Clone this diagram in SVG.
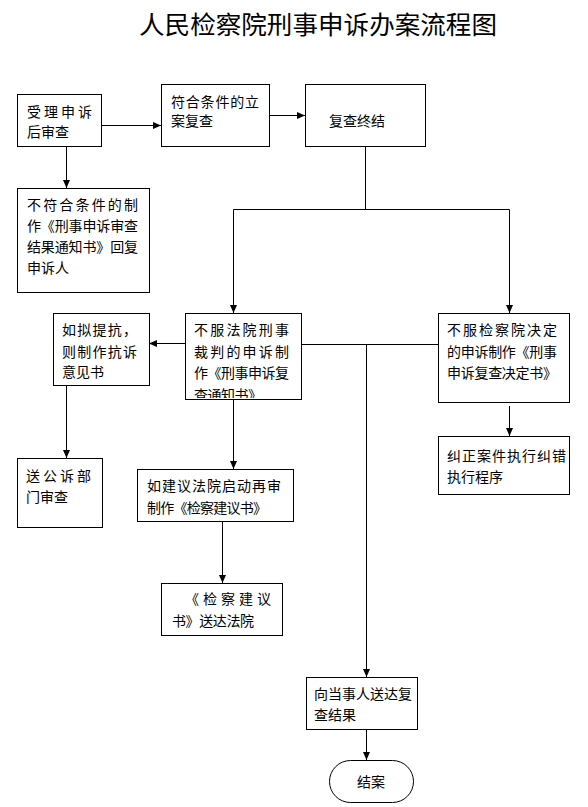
<svg xmlns="http://www.w3.org/2000/svg" width="588" height="807" viewBox="0 0 588 807">
<style>
.box{fill:#fff;stroke:#000;stroke-width:1}
.t{font-family:"Noto Sans CJK SC","Noto Sans",sans-serif;font-size:14px;fill:#000}
.title{font-family:"Noto Sans CJK SC","Noto Sans",sans-serif;font-size:25px;fill:#000}
.c{fill:none;stroke:#000;stroke-width:1}
</style>
<defs>
<marker id="ah" markerUnits="userSpaceOnUse" markerWidth="8" markerHeight="8" refX="8" refY="4" orient="auto">
<path d="M0,0.5 L8,4 L0,7.5 z" fill="#000"/>
</marker>
<clipPath id="clipB6"><rect x="186" y="314" width="114" height="84"/></clipPath>
</defs>
<rect width="588" height="807" fill="#fff"/>
<text class="title" x="139" y="34" textLength="358" lengthAdjust="spacingAndGlyphs">人民检察院刑事申诉办案流程图</text>

<g id="connectors">
<path class="c" d="M101.5,125.5 H161" marker-end="url(#ah)"/>
<path class="c" d="M269.5,115.5 H305" marker-end="url(#ah)"/>
<path class="c" d="M66.5,146 V188" marker-end="url(#ah)"/>
<path class="c" d="M365.5,146 V209.5 M233.5,209.5 H509.5"/>
<path class="c" d="M233.5,209.5 V313" marker-end="url(#ah)"/>
<path class="c" d="M509.5,209.5 V313" marker-end="url(#ah)"/>
<path class="c" d="M185,343.5 H149" marker-end="url(#ah)"/>
<path class="c" d="M301,344.5 H438"/>
<path class="c" d="M366.5,344.5 V677" marker-end="url(#ah)"/>
<path class="c" d="M66.5,385 V458" marker-end="url(#ah)"/>
<path class="c" d="M233.5,399 V469" marker-end="url(#ah)"/>
<path class="c" d="M222.5,521 V583" marker-end="url(#ah)"/>
<path class="c" d="M509.5,406 V436" marker-end="url(#ah)"/>
<path class="c" d="M366.5,729 V760" marker-end="url(#ah)"/>
</g>

<g id="n1">
<rect class="box" x="17.5" y="94.5" width="84" height="52"/>
<text class="t" x="27" y="117" textLength="65" lengthAdjust="spacing">受理申诉</text>
<text class="t" x="27" y="137">后审查</text>
</g>
<g id="n2">
<rect class="box" x="161.5" y="84.5" width="108" height="62"/>
<text class="t" x="171" y="107" textLength="88" lengthAdjust="spacing">符合条件的立</text>
<text class="t" x="171" y="126">案复查</text>
</g>
<g id="n3">
<rect class="box" x="305.5" y="84.5" width="120" height="62"/>
<text class="t" x="329" y="126">复查终结</text>
</g>
<g id="n4">
<rect class="box" x="17.5" y="188.5" width="132" height="104"/>
<text class="t" x="27" y="210" textLength="111" lengthAdjust="spacing">不符合条件的制</text>
<text class="t" x="27" y="231" textLength="111" lengthAdjust="spacing">作《刑事申诉审查</text>
<text class="t" x="27" y="252" textLength="111" lengthAdjust="spacing">结果通知书》回复</text>
<text class="t" x="27" y="273">申诉人</text>
</g>
<g id="n5">
<rect class="box" x="53.5" y="313.5" width="96" height="72"/>
<text class="t" x="62" y="335" textLength="75" lengthAdjust="spacing">如拟提抗，</text>
<text class="t" x="62" y="357" textLength="75" lengthAdjust="spacing">则制作抗诉</text>
<text class="t" x="62" y="377">意见书</text>
</g>
<g id="n6">
<rect class="box" x="185.5" y="313.5" width="116" height="86"/>
<g clip-path="url(#clipB6)">
<text class="t" x="194" y="335" textLength="95" lengthAdjust="spacing">不服法院刑事</text>
<text class="t" x="194" y="357" textLength="95" lengthAdjust="spacing">裁判的申诉制</text>
<text class="t" x="194" y="378" textLength="95" lengthAdjust="spacing">作《刑事申诉复</text>
<text class="t" x="194" y="400" textLength="68" lengthAdjust="spacing">查通知书》</text>
</g>
</g>
<g id="n7">
<rect class="box" x="438.5" y="313.5" width="131" height="89"/>
<text class="t" x="447" y="335" textLength="110" lengthAdjust="spacing">不服检察院决定</text>
<text class="t" x="447" y="357" textLength="110" lengthAdjust="spacing">的申诉制作《刑事</text>
<text class="t" x="447" y="378" textLength="110" lengthAdjust="spacing">申诉复查决定书》</text>
</g>
<g id="n8">
<rect class="box" x="438.5" y="436.5" width="131" height="58"/>
<text class="t" x="447" y="461" textLength="119" lengthAdjust="spacing">纠正案件执行纠错</text>
<text class="t" x="447" y="482">执行程序</text>
</g>
<g id="n9">
<rect class="box" x="17.5" y="458.5" width="85" height="69"/>
<text class="t" x="26" y="481" textLength="65" lengthAdjust="spacing">送公诉部</text>
<text class="t" x="26" y="502">门审查</text>
</g>
<g id="n10">
<rect class="box" x="137.5" y="469.5" width="156" height="52"/>
<text class="t" x="147" y="491" textLength="134" lengthAdjust="spacing">如建议法院启动再审</text>
<text class="t" x="147" y="513" textLength="120" lengthAdjust="spacing">制作《检察建议书》</text>
</g>
<g id="n11">
<rect class="box" x="161.5" y="583.5" width="121" height="52"/>
<text class="t" x="185" y="604" textLength="86" lengthAdjust="spacing">《检察建议</text>
<text class="t" x="172" y="626" textLength="82" lengthAdjust="spacing">书》送达法院</text>
</g>
<g id="n12">
<rect class="box" x="306.5" y="677.5" width="111" height="52"/>
<text class="t" x="314" y="699" textLength="98" lengthAdjust="spacing">向当事人送达复</text>
<text class="t" x="314" y="720">查结果</text>
</g>
<g id="n13">
<rect class="box" x="329.5" y="760.5" width="84" height="42" rx="21" ry="21"/>
<text class="t" x="357" y="787">结案</text>
</g>
</svg>
